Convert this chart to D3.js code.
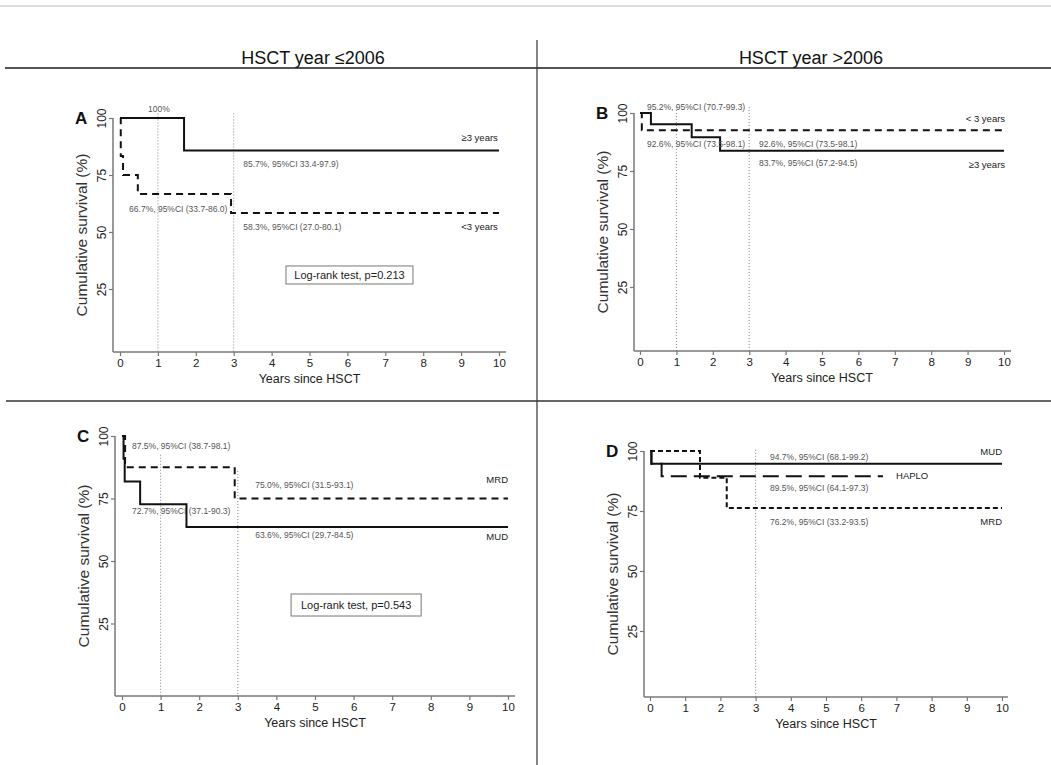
<!DOCTYPE html>
<html>
<head>
<meta charset="utf-8">
<script src="https://cdn.jsdelivr.net/npm/d3@7"></script>
<style>
  body { margin: 0; background: #fff; }
  svg { font-family: "Liberation Sans", Arial, sans-serif; display: block; }
</style>
</head>
<body>
<script>
// Chart values
var xTicks = [0, 1, 2, 3, 4, 5, 6, 7, 8, 9, 10];
var yTicks = [25, 50, 75, 100];
var headers = ["HSCT year \u22642006", "HSCT year >2006"];

// Panel A: HSCT year <=2006, age at HSCT
var aGe3Time = [0, 1.69, 10];
var aGe3Surv = [100, 85.7, 85.7];
var aLt3Time = [0, 0.02, 0.08, 0.47, 2.93, 10];
var aLt3Surv = [100, 83.3, 75, 66.7, 58.3, 58.3];

// Panel B: HSCT year >2006, age at HSCT
var bLt3Time = [0, 0.05, 10];
var bLt3Surv = [100, 92.6, 92.6];
var bGe3Time = [0, 0.3, 1.42, 2.2, 10];
var bGe3Surv = [100, 95.2, 89.5, 83.7, 83.7];

// Panel C: HSCT year <=2006, donor type
var cMrdTime = [0, 0.08, 2.92, 10];
var cMrdSurv = [100, 87.5, 75, 75];
var cMudTime = [0, 0.04, 0.07, 0.47, 1.67, 10];
var cMudSurv = [100, 90.9, 81.8, 72.7, 63.6, 63.6];

// Panel D: HSCT year >2006, donor type
var dMudTime = [0, 0.04, 10];
var dMudSurv = [100, 94.7, 94.7];
var dHaploTime = [0, 0.04, 0.33, 6.62];
var dHaploSurv = [100, 94.7, 89.5, 89.5];
var dMrdTime = [0, 1.42, 2.18, 10];
var dMrdSurv = [100, 88.9, 76.2, 76.2];

function zip(t, s) { return t.map(function(d, i) { return {t: d, s: s[i]}; }); }

var panels = [
  {
    letter: "A", x0: 120, x10: 499, y0: 346, y100: 118, axisX: 113, axisY: 352, axisRight: 506,
    refLines: [{t: 1, top: 102}, {t: 3, top: 102}],
    curves: [
      {data: zip(aGe3Time, aGe3Surv), dash: null},
      {data: zip(aLt3Time, aLt3Surv), dash: "7,5"}
    ],
    notes: [
      {t: 0.74, s: 104, text: "100%", anchor: "start", size: 8.5},
      {t: 9.97, s: 91.2, text: "\u22653 years", anchor: "end", size: 9.5},
      {t: 3.25, s: 79.8, text: "85.7%, 95%CI 33.4-97.9)", anchor: "start", size: 8.5},
      {t: 0.24, s: 60.1, text: "66.7%, 95%CI (33.7-86.0)", anchor: "start", size: 8.5},
      {t: 3.25, s: 52.2, text: "58.3%, 95%CI (27.0-80.1)", anchor: "start", size: 8.5},
      {t: 9.97, s: 52.2, text: "<3 years", anchor: "end", size: 9.5}
    ],
    box: {t1: 4.38, t2: 7.73, s1: 35.1, s2: 27.2, text: "Log-rank test, p=0.213"}
  },
  {
    letter: "B", x0: 640, x10: 1004, y0: 345, y100: 113, axisX: 634, axisY: 351, axisRight: 1011,
    refLines: [{t: 1, top: 102.6}, {t: 3, top: 102.6}],
    curves: [
      {data: zip(bLt3Time, bLt3Surv), dash: "7,5"},
      {data: zip(bGe3Time, bGe3Surv), dash: null}
    ],
    notes: [
      {t: 0.19, s: 102.6, text: "95.2%, 95%CI (70.7-99.3)", anchor: "start", size: 8.5},
      {t: 10.03, s: 97.4, text: "< 3 years", anchor: "end", size: 9.5},
      {t: 0.19, s: 86.6, text: "92.6%, 95%CI (73.5-98.1)", anchor: "start", size: 8.5},
      {t: 3.27, s: 86.6, text: "92.6%, 95%CI (73.5-98.1)", anchor: "start", size: 8.5},
      {t: 3.27, s: 78.4, text: "83.7%, 95%CI (57.2-94.5)", anchor: "start", size: 8.5},
      {t: 10.03, s: 77.6, text: "\u22653 years", anchor: "end", size: 9.5}
    ],
    box: null
  },
  {
    letter: "C", x0: 122, x10: 508, y0: 686, y100: 436, axisX: 115, axisY: 696, axisRight: 515,
    refLines: [{t: 1, top: 92.5}, {t: 3, top: 86}],
    curves: [
      {data: zip(cMrdTime, cMrdSurv), dash: "7,5"},
      {data: zip(cMudTime, cMudSurv), dash: null}
    ],
    notes: [
      {t: 0.26, s: 96, text: "87.5%, 95%CI (38.7-98.1)", anchor: "start", size: 8.5},
      {t: 10, s: 82.4, text: "MRD", anchor: "end", size: 9.5},
      {t: 3.45, s: 80.4, text: "75.0%, 95%CI (31.5-93.1)", anchor: "start", size: 8.5},
      {t: 0.26, s: 70, text: "72.7%, 95%CI (37.1-90.3)", anchor: "start", size: 8.5},
      {t: 3.45, s: 60.4, text: "63.6%, 95%CI (29.7-84.5)", anchor: "start", size: 8.5},
      {t: 10, s: 59.6, text: "MUD", anchor: "end", size: 9.5}
    ],
    box: {t1: 4.38, t2: 7.75, s1: 36.8, s2: 28, text: "Log-rank test, p=0.543"}
  },
  {
    letter: "D", x0: 650, x10: 1002, y0: 691, y100: 451, axisX: 644, axisY: 697, axisRight: 1008,
    refLines: [{t: 3, top: 100.5}],
    curves: [
      {data: zip(dMudTime, dMudSurv), dash: null},
      {data: zip(dHaploTime, dHaploSurv), dash: "16,7"},
      {data: zip(dMrdTime, dMrdSurv), dash: "5,3"}
    ],
    notes: [
      {t: 3.41, s: 97.5, text: "94.7%, 95%CI (68.1-99.2)", anchor: "start", size: 8.5},
      {t: 10, s: 99.6, text: "MUD", anchor: "end", size: 9.5},
      {t: 6.99, s: 89.6, text: "HAPLO", anchor: "start", size: 9.5},
      {t: 3.41, s: 84.6, text: "89.5%, 95%CI (64.1-97.3)", anchor: "start", size: 8.5},
      {t: 3.41, s: 70.4, text: "76.2%, 95%CI (33.2-93.5)", anchor: "start", size: 8.5},
      {t: 10, s: 70.4, text: "MRD", anchor: "end", size: 9.5}
    ],
    box: null
  }
];

var svgWidth = 1051;
var svgHeight = 765;

var svg = d3.select("body")
  .append("svg")
  .attr("width", svgWidth)
  .attr("height", svgHeight);

// frame lines of the figure
svg.append("line").attr("x1", 0).attr("x2", svgWidth).attr("y1", 6).attr("y2", 6)
  .attr("stroke", "#d0d0d0").attr("stroke-width", 1.5);
svg.append("line").attr("x1", 5).attr("x2", svgWidth).attr("y1", 68).attr("y2", 68)
  .attr("stroke", "#555").attr("stroke-width", 2);
svg.append("line").attr("x1", 6).attr("x2", svgWidth).attr("y1", 401).attr("y2", 401)
  .attr("stroke", "#333").attr("stroke-width", 1.5);
svg.append("line").attr("x1", 537).attr("x2", 537).attr("y1", 40).attr("y2", svgHeight)
  .attr("stroke", "#333").attr("stroke-width", 1.2);

// column headers
svg.selectAll(".header")
  .data(headers)
  .enter()
  .append("text")
  .attr("class", "header")
  .attr("x", (d, i) => i === 0 ? 313 : 811)
  .attr("y", 64)
  .attr("text-anchor", "middle")
  .attr("font-size", 18)
  .attr("fill", "#111")
  .text(d => d);

panels.forEach(function(p) {
  var x = d3.scaleLinear().domain([0, 10]).range([p.x0, p.x10]);
  var y = d3.scaleLinear().domain([0, 100]).range([p.y0, p.y100]);
  var g = svg.append("g");

  // dotted reference lines at 1 and 3 years
  g.selectAll(".ref")
    .data(p.refLines)
    .enter()
    .append("line")
    .attr("x1", d => x(d.t)).attr("x2", d => x(d.t))
    .attr("y1", d => y(d.top)).attr("y2", p.axisY)
    .attr("stroke", "#888")
    .attr("stroke-width", 1)
    .attr("stroke-dasharray", "1,2");

  // axes
  var bottomAxis = d3.axisBottom(x).tickValues(xTicks).tickSize(4).tickPadding(3);
  var leftAxis = d3.axisLeft(y).tickValues(yTicks).tickSize(4);

  var gx = g.append("g")
    .attr("transform", `translate(0, ${p.axisY})`)
    .call(bottomAxis);
  gx.select(".domain").remove();
  gx.selectAll("line").attr("stroke", "#777").attr("stroke-width", 1.2);
  gx.selectAll("text").attr("font-size", 11.5).attr("fill", "#222")
    .attr("font-family", "Liberation Sans, Arial, sans-serif");

  var gy = g.append("g")
    .attr("transform", `translate(${p.axisX}, 0)`)
    .call(leftAxis);
  gy.select(".domain").remove();
  gy.selectAll("line").attr("stroke", "#777").attr("stroke-width", 1.2);
  gy.selectAll("text")
    .attr("x", 0).attr("y", 0).attr("dy", "0.35em")
    .attr("text-anchor", "middle")
    .attr("transform", "translate(-11,0) rotate(-90)")
    .attr("font-size", 12).attr("fill", "#222")
    .attr("font-family", "Liberation Sans, Arial, sans-serif");

  g.append("line")
    .attr("x1", p.axisX).attr("x2", p.axisRight)
    .attr("y1", p.axisY).attr("y2", p.axisY)
    .attr("stroke", "#777").attr("stroke-width", 1.5);
  g.append("line")
    .attr("x1", p.axisX).attr("x2", p.axisX)
    .attr("y1", y(100)).attr("y2", p.axisY)
    .attr("stroke", "#777").attr("stroke-width", 1.5);

  // axis titles
  g.append("text")
    .attr("x", (p.x0 + p.x10) / 2)
    .attr("y", p.axisY + 31)
    .attr("text-anchor", "middle")
    .attr("font-size", 12.5)
    .attr("fill", "#222")
    .text("Years since HSCT");

  g.append("text")
    .attr("transform", `translate(${p.axisX - 26}, ${(y(100) + p.axisY) / 2}) rotate(-90)`)
    .attr("text-anchor", "middle")
    .attr("font-size", 15.5)
    .attr("fill", "#333")
    .text("Cumulative survival (%)");

  // panel letter
  g.append("text")
    .attr("x", p.axisX - 38)
    .attr("y", y(100) + 6)
    .attr("font-size", 17)
    .attr("font-weight", "bold")
    .attr("fill", "#111")
    .text(p.letter);

  // Kaplan-Meier step curves
  var line = d3.line()
    .x(d => x(d.t))
    .y(d => y(d.s))
    .curve(d3.curveStepAfter);

  g.selectAll(".km")
    .data(p.curves)
    .enter()
    .append("path")
    .attr("class", "km")
    .attr("d", d => line(d.data))
    .attr("fill", "none")
    .attr("stroke", "#111")
    .attr("stroke-width", 2)
    .attr("stroke-dasharray", d => d.dash);

  // annotations
  g.selectAll(".note")
    .data(p.notes)
    .enter()
    .append("text")
    .attr("class", "note")
    .attr("x", d => x(d.t))
    .attr("y", d => y(d.s))
    .attr("dy", "0.35em")
    .attr("text-anchor", d => d.anchor)
    .attr("font-size", d => d.size)
    .attr("fill", d => d.size > 9 ? "#222" : "#555")
    .text(d => d.text);

  if (p.box) {
    g.append("rect")
      .attr("x", x(p.box.t1))
      .attr("y", y(p.box.s1))
      .attr("width", x(p.box.t2) - x(p.box.t1))
      .attr("height", y(p.box.s2) - y(p.box.s1))
      .attr("fill", "#fff")
      .attr("stroke", "#777")
      .attr("stroke-width", 1);
    g.append("text")
      .attr("x", (x(p.box.t1) + x(p.box.t2)) / 2)
      .attr("y", (y(p.box.s1) + y(p.box.s2)) / 2)
      .attr("dy", "0.35em")
      .attr("text-anchor", "middle")
      .attr("font-size", 11)
      .attr("fill", "#222")
      .text(p.box.text);
  }
});
</script>
</body>
</html>
